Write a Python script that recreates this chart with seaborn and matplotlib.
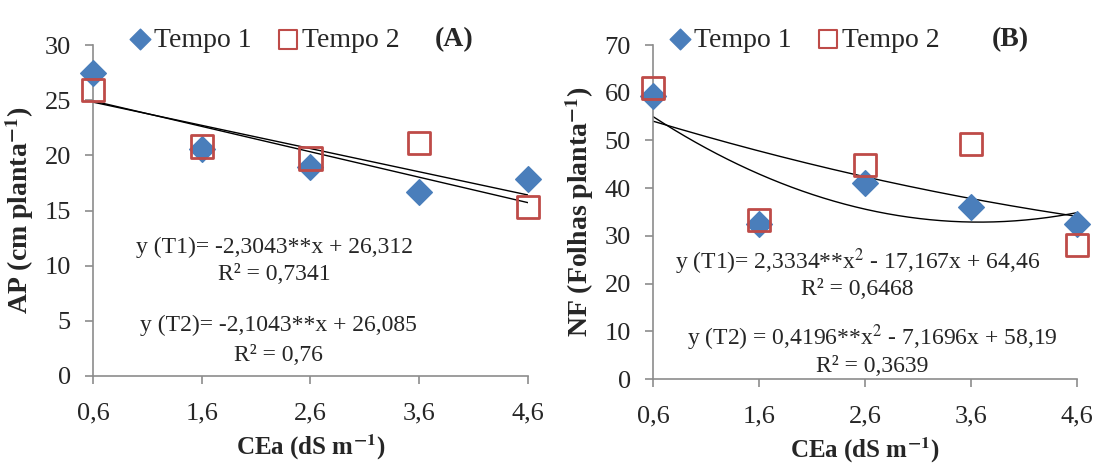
import numpy as np
import pandas as pd
import matplotlib
matplotlib.use('Agg')
import matplotlib.pyplot as plt
import seaborn as sns

# CEa levels (dS m-1)
cea = [0.6, 1.6, 2.6, 3.6, 4.6]
cea_labels = ["0,6", "1,6", "2,6", "3,6", "4,6"]

# (A) AP - plant height (cm planta-1)
ap_t1 = [27.5, 20.6, 18.9, 16.7, 17.9]
ap_t2 = [25.9, 20.8, 19.7, 21.1, 15.3]
ap_fit_t1 = [-2.3043, 26.312]
ap_fit_t2 = [-2.1043, 26.085]

# (B) NF - number of leaves (folhas planta-1)
nf_t1 = [59.4, 32.4, 41.1, 36.1, 32.4]
nf_t2 = [61.0, 33.3, 44.9, 49.3, 28.1]
nf_fit_t1 = [2.3334, -17.167, 64.46]
nf_fit_t2 = [0.4196, -7.1696, 58.19]

BLUE = "#4A7EBB"
RED = "#BE4B48"
SPINE = "#8c8c8c"

sns.set_style("white")
plt.rcParams['font.family'] = ['Liberation Serif', 'DejaVu Serif']
plt.rcParams['mathtext.fontset'] = 'stix'

fig = plt.figure(figsize=(10.99, 4.65), dpi=100)
ax_a = fig.add_axes([0.0846, 0.1914, 0.3958, 0.7118])
ax_b = fig.add_axes([0.5942, 0.1849, 0.3858, 0.7183])


def draw_panel(ax, t1, t2, fit1, fit2, ymax, ystep, ylabel, tag, leg_x, tag_x):
    df = pd.DataFrame({"CEa": cea * 2,
                       "val": t1 + t2,
                       "Tempo": ["Tempo 1"] * 5 + ["Tempo 2"] * 5})
    xs = np.linspace(cea[0], cea[-1], 200)
    for coefs in (fit1, fit2):
        sns.lineplot(x=xs, y=np.polyval(coefs, xs), color="black", lw=1.0,
                     ax=ax, legend=False)
    sns.scatterplot(data=df[df.Tempo == "Tempo 1"], x="CEa", y="val",
                    marker="D", s=170, color=BLUE, edgecolor=BLUE,
                    ax=ax, label="Tempo 1", zorder=3)
    sns.scatterplot(data=df[df.Tempo == "Tempo 2"], x="CEa", y="val",
                    marker="s", s=260, facecolor="none", edgecolor=RED,
                    linewidth=2, ax=ax, label="Tempo 2", zorder=4)

    ax.set_xlim(cea[0], cea[-1])
    ax.set_ylim(0, ymax)
    ax.set_xticks(cea)
    ax.set_xticklabels(cea_labels)
    ax.set_yticks(np.arange(0, ymax + 1, ystep))
    for s in ("top", "right"):
        ax.spines[s].set_visible(False)
    for s in ("left", "bottom"):
        ax.spines[s].set_color(SPINE)
        ax.spines[s].set_linewidth(1.2)
    ax.tick_params(axis="both", direction="out", length=6, width=1.2,
                   color=SPINE, labelsize=19, left=True, bottom=True)
    ax.tick_params(axis="x", pad=13)
    ax.tick_params(axis="y", pad=10)
    ax.set_xlabel("CEa (dS m$^{\\mathbf{-1}}$)", fontsize=18,
                  fontweight="bold", labelpad=6)
    ax.set_ylabel(ylabel, fontsize=20, fontweight="bold", labelpad=6)

    leg = ax.legend(loc="center", bbox_to_anchor=(leg_x, 1.015), ncol=2,
                    frameon=False, fontsize=20, handletextpad=0.0,
                    columnspacing=0.8, borderaxespad=0, handlelength=1.0)
    leg.legend_handles[0].set_sizes([110])
    leg.legend_handles[1].set_sizes([170])
    leg.legend_handles[1].set_linewidth(1.5)
    ax.text(tag_x, 1.015, tag, transform=ax.transAxes, ha="center",
            va="center", fontsize=20, fontweight="bold")
    for c in ax.collections:
        c.set_clip_on(False)


draw_panel(ax_a, ap_t1, ap_t2, ap_fit_t1, ap_fit_t2, 30, 5,
           "AP (cm planta$^{\\mathbf{-1}}$)", "(A)", 0.39, 0.83)
draw_panel(ax_b, nf_t1, nf_t2, nf_fit_t1, nf_fit_t2, 70, 10,
           "NF (Folhas planta$^{\\mathbf{-1}}$)", "(B)", 0.354, 0.842)

eq = dict(ha="center", va="center", fontsize=17)
ax_a.text(2.27, 11.7, "y (T1)= -2,3043**x + 26,312", **eq)
ax_a.text(2.27, 9.2, "R² = 0,7341", **eq)
ax_a.text(2.31, 4.6, "y (T2)= -2,1043**x + 26,085", **eq)
ax_a.text(2.31, 1.9, "R² = 0,76", **eq)

ax_b.text(2.53, 24.5, "y (T1)= 2,3334**x$^2$ - 17,167x + 64,46", **eq)
ax_b.text(2.53, 18.7, "R² = 0,6468", **eq)
ax_b.text(2.67, 8.6, "y (T2) = 0,4196**x$^2$ - 7,1696x + 58,19", **eq)
ax_b.text(2.67, 2.6, "R² = 0,3639", **eq)

fig.savefig("out.png", dpi=100)
